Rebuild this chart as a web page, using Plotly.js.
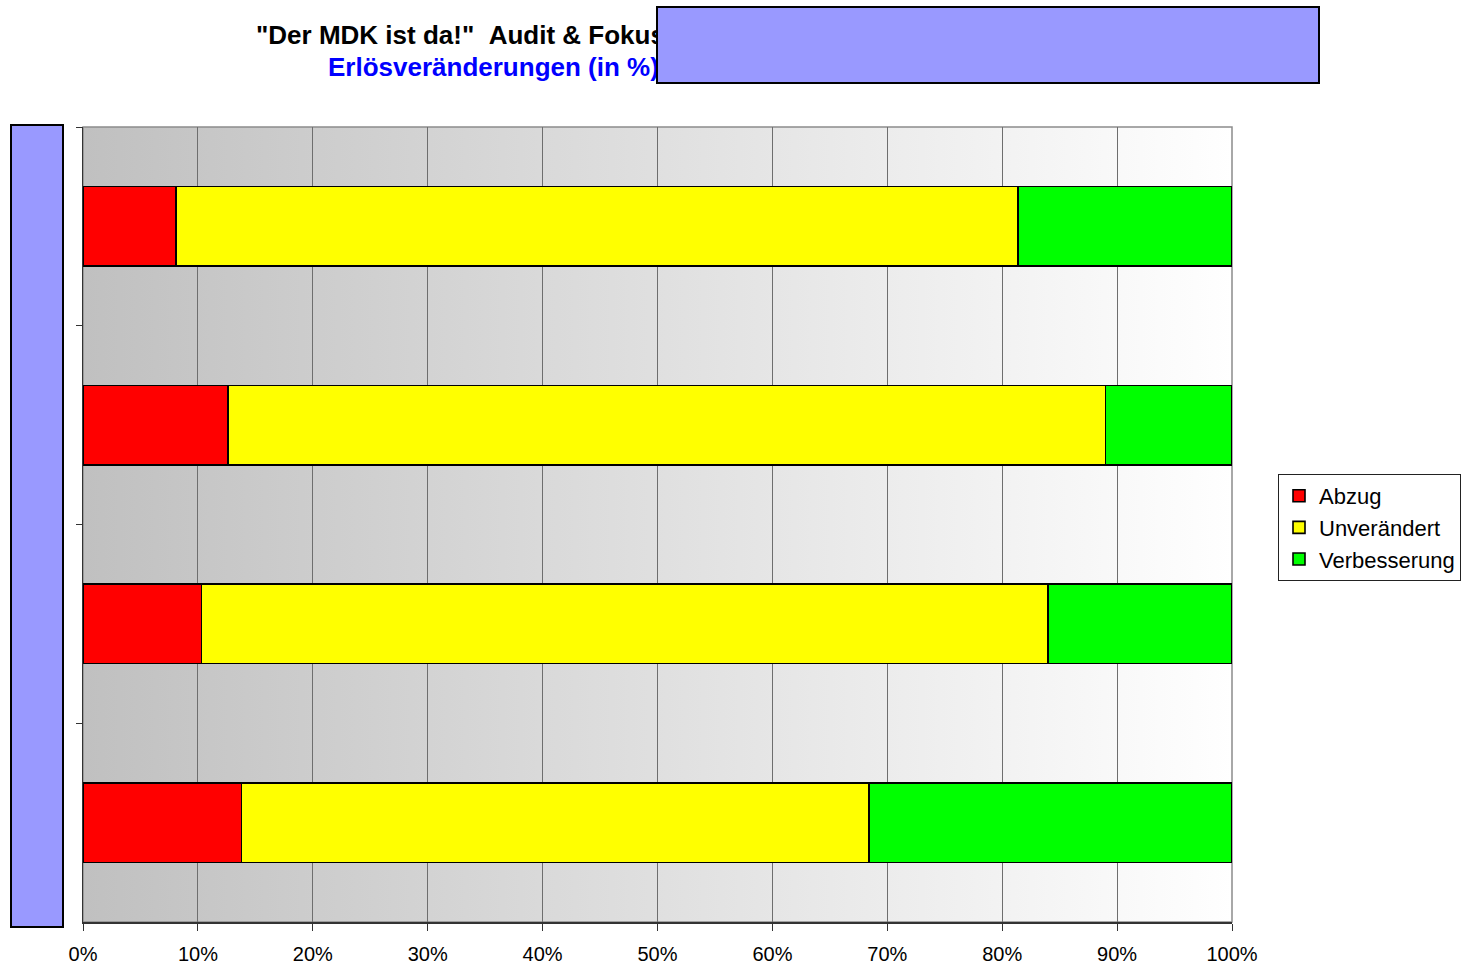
<!DOCTYPE html>
<html>
<head>
<meta charset="utf-8">
<script src="https://cdn.plot.ly/plotly-3.0.1.min.js"></script>
<style>
  html, body { margin: 0; padding: 0; background: #ffffff; }
  #chart { width: 1464px; height: 965px; }
</style>
</head>
<body>
<div id="chart"></div>
<script>
// Rows of the stacked bar chart (top to bottom)
const categories = ['Gruppe 1', 'Gruppe 2', 'Gruppe 3', 'Gruppe 4'];

// Share of cases per outcome, in percent
const abzug        = [8.1, 12.6, 10.3, 13.8];
const unveraendert = [73.3, 76.4, 73.7, 54.6];
const verbesserung = [18.6, 11.0, 16.0, 31.6];

const seriesNames  = ['Abzug', 'Unverändert', 'Verbesserung'];
const seriesColors = ['#ff0000', '#ffff00', '#00ff00'];
const seriesValues = [abzug, unveraendert, verbesserung];

const xTickVals  = [0, 10, 20, 30, 40, 50, 60, 70, 80, 90, 100];
const xTickTexts = ['0%', '10%', '20%', '30%', '40%', '50%', '60%', '70%', '80%', '90%', '100%'];

const FONT = 'Liberation Sans, Arial, sans-serif';

// Plot-area pixel frame, used to place the paper-anchored decorations
const W = 1464, H = 965;
const PL = 83, PR = 1232, PT = 127, PB = 922;
const px = v => (v - PL) / (PR - PL);
const py = v => (PB - v) / (PB - PT);

const traces = seriesNames.map((name, i) => ({
  type: 'bar',
  orientation: 'h',
  name: name,
  y: categories,
  x: seriesValues[i],
  width: 0.4,
  legendgroup: name,
  marker: { color: seriesColors[i], line: { color: '#000000', width: 1.6 } },
  hoverinfo: 'x+name'
}));

// Horizontal grey-to-white background fill of the plot area
const gradSvg =
  '<svg xmlns="http://www.w3.org/2000/svg" width="200" height="10" preserveAspectRatio="none">' +
  '<defs><linearGradient id="g" x1="0" x2="1" y1="0" y2="0">' +
  '<stop offset="0" stop-color="#c0c0c0"/><stop offset="1" stop-color="#ffffff"/>' +
  '</linearGradient></defs><rect width="200" height="10" fill="url(#g)"/></svg>';
const gradSrc = 'data:image/svg+xml;charset=utf-8,' + encodeURIComponent(gradSvg);

const layout = {
  width: W,
  height: H,
  margin: { l: PL, r: W - PR, t: PT, b: H - PB, autoexpand: false },
  paper_bgcolor: '#ffffff',
  plot_bgcolor: 'rgba(0,0,0,0)',
  barmode: 'stack',
  showlegend: true,
  font: { family: FONT, size: 20, color: '#000000' },
  xaxis: {
    range: [0, 100],
    tickvals: xTickVals,
    ticktext: xTickTexts,
    ticks: 'outside',
    ticklen: 7,
    tickcolor: '#333333',
    tickwidth: 1,
    ticklabelstandoff: 6,
    showgrid: true,
    gridcolor: '#6e6e6e',
    gridwidth: 1,
    zeroline: false,
    showline: true,
    linecolor: '#333333',
    linewidth: 1.5,
    tickfont: { family: FONT, size: 20, color: '#000000' },
    fixedrange: true
  },
  yaxis: {
    type: 'category',
    categoryorder: 'array',
    categoryarray: categories,
    autorange: 'reversed',
    tickson: 'boundaries',
    ticks: 'outside',
    ticklen: 6,
    tickcolor: '#333333',
    showticklabels: false,
    showgrid: false,
    zeroline: false,
    showline: true,
    linecolor: '#333333',
    linewidth: 1.5,
    fixedrange: true
  },
  legend: {
    x: px(1461),
    xanchor: 'right',
    y: py(474),
    yanchor: 'top',
    bgcolor: '#ffffff',
    bordercolor: '#222222',
    borderwidth: 1,
    traceorder: 'grouped',
    tracegroupgap: 0,
    font: { family: FONT, size: 22, color: '#000000' }
  },
  images: [{
    source: gradSrc,
    xref: 'paper', yref: 'paper',
    x: 0, y: 1, sizex: 1, sizey: 1,
    xanchor: 'left', yanchor: 'top',
    sizing: 'stretch',
    layer: 'below'
  }],
  shapes: [{
    type: 'rect',
    xref: 'paper', yref: 'paper',
    x0: 0, x1: 1, y0: 0, y1: 1,
    line: { color: '#8c8c8c', width: 1.5 },
    fillcolor: 'rgba(0,0,0,0)',
    layer: 'between'
  }],
  annotations: [
    {
      text: '<b>"Der MDK ist da!"&nbsp;&nbsp;Audit &amp; Fokus</b>',
      xref: 'paper', yref: 'paper',
      x: px(254), y: py(35),
      xanchor: 'left', yanchor: 'middle',
      showarrow: false,
      font: { family: FONT, size: 26, color: '#000000' }
    },
    {
      text: '<b>Erlösveränderungen (in %)</b>',
      xref: 'paper', yref: 'paper',
      x: px(326), y: py(67),
      xanchor: 'left', yanchor: 'middle',
      showarrow: false,
      font: { family: FONT, size: 26, color: '#0000ff' }
    },
    {
      // header block
      text: ' ',
      xref: 'paper', yref: 'paper',
      x: px(656), y: py(6),
      xanchor: 'left', yanchor: 'top',
      width: 660, height: 74,
      borderpad: 0, borderwidth: 2,
      bordercolor: '#000000', bgcolor: '#9999ff',
      showarrow: false
    },
    {
      // side block over the row labels
      text: ' ',
      xref: 'paper', yref: 'paper',
      x: px(10), y: py(124),
      xanchor: 'left', yanchor: 'top',
      width: 50, height: 800,
      borderpad: 0, borderwidth: 2,
      bordercolor: '#000000', bgcolor: '#9999ff',
      showarrow: false
    }
  ]
};

Plotly.newPlot('chart', traces, layout, { displayModeBar: false, staticPlot: true });
</script>
</body>
</html>
